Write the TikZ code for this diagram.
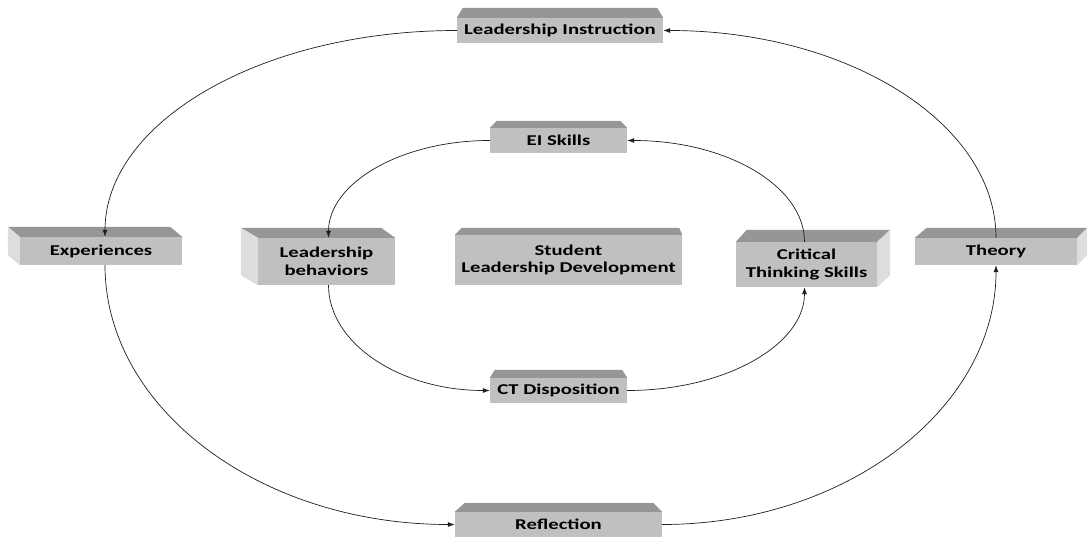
\documentclass[tikz,border=0pt]{standalone}
\usepackage{fontspec}
\setmainfont{Carlito}[FakeStretch=1.38]
\usepackage{xcolor}
\usepackage{tikz}
\usetikzlibrary{arrows.meta}
\definecolor{boxFront}{RGB}{192,192,192}
\definecolor{boxTop}{RGB}{150,150,150}
\definecolor{boxSide}{RGB}{221,221,221}
\definecolor{linkGray}{RGB}{30,30,30}

\begin{document}
\begin{tikzpicture}[x=1pt, y=-1pt,
    box/.style={fill=boxFront, inner sep=0pt, align=center, font=\bfseries\fontsize{15}{17.5}\selectfont},
    link/.style={-{Latex[length=7pt,width=5pt]}, line width=0.7pt, color=linkGray}]
    \useasboundingbox (0,0) rectangle (1087,537);

    \node[box, minimum width=206pt, minimum height=25pt] (li) at (560,30.5) {Leadership Instruction};
    \node[box, minimum width=162pt, minimum height=28pt] (exp) at (101,251) {Experiences};
    \node[box, minimum width=137pt, minimum height=47pt] (lb) at (326.5,261.5) {Leadership\\behaviors};
    \node[box, minimum width=227pt, minimum height=50pt] (sld) at (568.5,260) {Student\\Leadership Development};
    \node[box, minimum width=141pt, minimum height=45pt] (cts) at (806.5,264.5) {Critical\\Thinking Skills};
    \node[box, minimum width=162pt, minimum height=27pt] (theory) at (996,251.5) {Theory};
    \node[box, minimum width=137pt, minimum height=25pt] (ei) at (558.5,140.5) {EI Skills};
    \node[box, minimum width=137pt, minimum height=25pt] (ctd) at (558.5,390.5) {CT Disposition};
    \node[box, minimum width=207pt, minimum height=25pt] (refl) at (558.5,524.5) {Reflection};

    % top and side faces
    \fill[boxTop] (li.north west) -- ++(6,-10) -- ([shift={(-6,-10)}]li.north east) -- (li.north east) -- cycle;
    \fill[boxTop] (exp.north west) -- ++(-12,-10) -- ([shift={(-12,-10)}]exp.north east) -- (exp.north east) -- cycle;
    \fill[boxSide] (exp.north west) -- ++(-12,-10) -- ([shift={(-12,-10)}]exp.south west) -- (exp.south west) -- cycle;
    \fill[boxTop] (lb.north west) -- ++(-17,-10) -- ([shift={(-14,-10)}]lb.north east) -- (lb.north east) -- cycle;
    \fill[boxSide] (lb.north west) -- ++(-17,-10) -- ([shift={(-17,-10)}]lb.south west) -- (lb.south west) -- cycle;
    \fill[boxTop] (sld.north west) -- ++(7,-7) -- ([shift={(-3,-7)}]sld.north east) -- (sld.north east) -- cycle;
    \fill[boxTop] (cts.north west) -- ++(11,-12) -- ([shift={(13,-12)}]cts.north east) -- (cts.north east) -- cycle;
    \fill[boxSide] (cts.north east) -- ++(13,-12) -- ([shift={(13,-12)}]cts.south east) -- (cts.south east) -- cycle;
    \fill[boxTop] (theory.north west) -- ++(12,-10) -- ([shift={(10,-10)}]theory.north east) -- (theory.north east) -- cycle;
    \fill[boxSide] (theory.north east) -- ++(10,-10) -- ([shift={(10,-10)}]theory.south east) -- (theory.south east) -- cycle;
    \fill[boxTop] (ei.north west) -- ++(7,-7) -- ([shift={(-7,-7)}]ei.north east) -- (ei.north east) -- cycle;
    \fill[boxTop] (ctd.north west) -- ++(5,-8) -- ([shift={(-5,-8)}]ctd.north east) -- (ctd.north east) -- cycle;
    \fill[boxTop] (refl.north west) -- ++(10,-9) -- ([shift={(-9,-9)}]refl.north east) -- (refl.north east) -- cycle;

    % outer cycle
    \draw[link] (theory.north) .. controls +(0,-115) and +(184,0) .. (li.east);
    \draw[link] (li.west) .. controls +(-197,0) and +(0,-114) .. ([xshift=4pt]exp.north);
    \draw[link] ([xshift=4pt]exp.south) .. controls +(0,143) and +(-195,0) .. (refl.west);
    \draw[link] (refl.east) .. controls +(184,0) and +(0,143) .. (theory.south);

    % inner cycle
    \draw[link] ([xshift=-2pt]cts.north) .. controls +(0,-56) and +(99,0) .. (ei.east);
    \draw[link] (ei.west) .. controls +(-90,0) and +(0,-54) .. ([xshift=2pt]lb.north);
    \draw[link] ([xshift=2pt]lb.south) .. controls +(0,58) and +(-90,0) .. (ctd.west);
    \draw[link] (ctd.east) .. controls +(99,0) and +(0,57) .. ([xshift=-2pt]cts.south);
\end{tikzpicture}
\end{document}
